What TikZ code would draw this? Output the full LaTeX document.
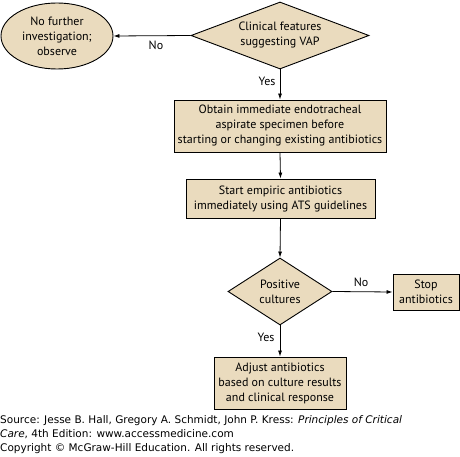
\documentclass[tikz,border=0pt]{standalone}
\usepackage{fontspec}
\setmainfont{PT Sans}
\newfontfamily\footfont{DejaVu Sans}
\usetikzlibrary{shapes.geometric,arrows.meta}
\definecolor{tan}{RGB}{234,219,190}
\begin{document}
\begin{tikzpicture}[x=1pt,y=-1pt,
  every node/.style={font=\fontsize{12}{15}\selectfont},
  boxst/.style={draw,fill=tan,line width=0.9pt,align=center,inner sep=0pt},
  arr/.style={-{Latex[length=6pt,width=4pt]},line width=0.8pt},
  lbl/.style={inner sep=0pt}]
\useasboundingbox (0,0) rectangle (460,457);
\node[boxst,ellipse,minimum width=112,minimum height=66] (e) at (57,36) {No further\\investigation;\\observe};
\node[boxst,diamond,minimum width=178,minimum height=67,aspect=2.66] (d1) at (280,35.5) {Clinical features\\suggesting VAP};
\node[boxst,minimum width=212,minimum height=52] (b1) at (280,126) {Obtain immediate endotracheal\\aspirate specimen before\\starting or changing existing antibiotics};
\node[boxst,minimum width=189,minimum height=39] (b2) at (280.5,198.5) {Start empiric antibiotics\\immediately using ATS guidelines};
\node[boxst,diamond,minimum width=104,minimum height=67,aspect=1.55] (d2) at (280,291.5) {Positive\\cultures};
\node[boxst,minimum width=66,minimum height=36] (s) at (426,292) {Stop\\antibiotics};
\node[boxst,minimum width=132,minimum height=52] (b3) at (280,383) {Adjust antibiotics\\based on culture results\\and clinical response};
\draw[arr] (d1.west) -- (e.east);
\draw[arr] (d1.south) -- (b1.north);
\draw[arr] (b1.south) -- (b2.north);
\draw[arr] (b2.south) -- (d2.north);
\draw[arr] (d2.east) -- (s.west);
\draw[arr] (d2.south) -- (b3.north);
\node[lbl] (n1) at (156,45) {No};
\node[lbl] (y1) at (267,81) {Yes};
\node[lbl] (n2) at (361,282) {No};
\node[lbl] (y2) at (266,337) {Yes};
\node[anchor=north west,inner sep=0pt,align=left,font=\footfont\fontsize{10.5}{14}\selectfont] (src) at (0,415) {Source: Jesse B. Hall, Gregory A. Schmidt, John P. Kress: \textit{Principles of Critical}\\\textit{Care}, 4th Edition: www.accessmedicine.com\\Copyright \textcopyright{} McGraw-Hill Education. All rights reserved.};
\end{tikzpicture}
\end{document}
